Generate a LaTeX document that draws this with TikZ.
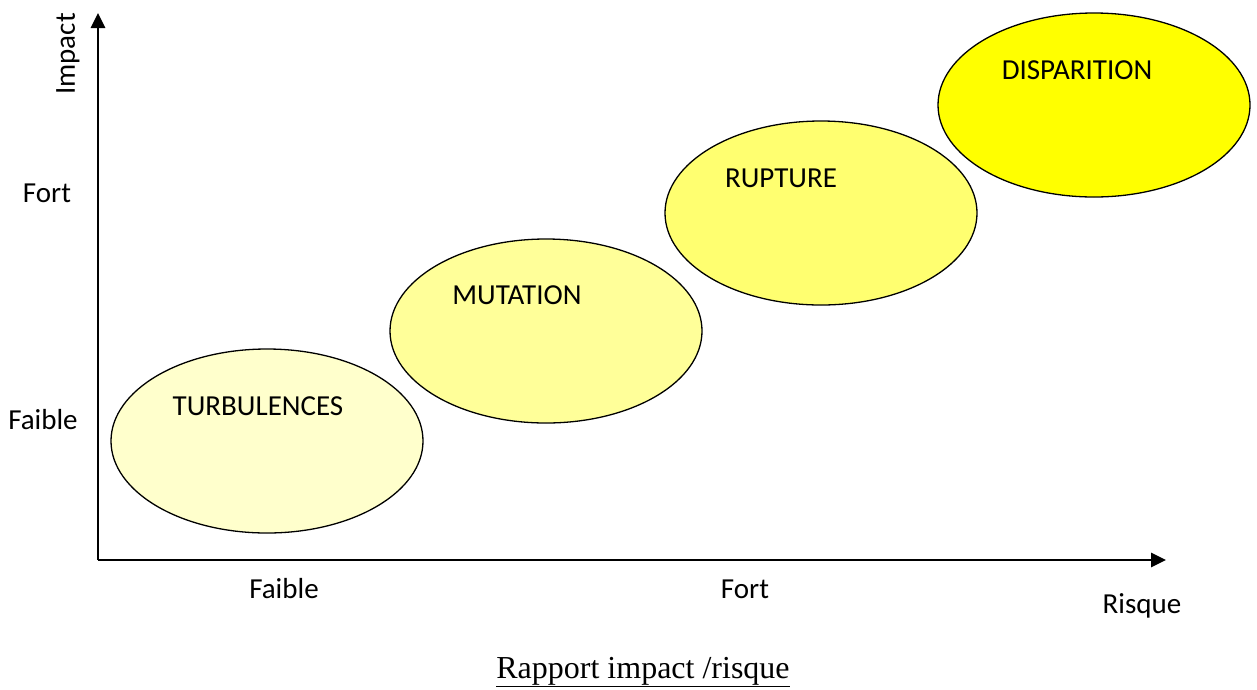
\documentclass[tikz,border=0pt]{standalone}
\usepackage{fontspec}
\setmainfont{Carlito}
\newfontfamily\capfont{Liberation Serif}
\usetikzlibrary{arrows.meta,shapes.geometric}

\begin{document}
\begin{tikzpicture}[x=1pt,y=-1pt,
  bubble/.style = {draw, ellipse, line width=1.3pt, minimum width=312pt, minimum height=184pt, inner sep=0pt},
  axis/.style = {line width=2.7pt, -{Triangle[length=15pt,width=14pt]}},
  lbl/.style = {font=\fontsize{29}{33}\selectfont, inner sep=0pt},
  node distance={15mm}]
\useasboundingbox (0,0) rectangle (1257,689);
\definecolor{jaune1}{HTML}{FFFFCC}
\definecolor{jaune2}{HTML}{FFFF99}
\definecolor{jaune3}{HTML}{FFFF70}
\definecolor{jaune4}{HTML}{FFFF00}
% axes
\coordinate (o) at (98,560);
\coordinate (ytop) at (98,13);
\coordinate (xend) at (1166,560);
\draw[axis] (o) -- (ytop);
\draw[axis] (o) -- (xend);
\node[lbl, rotate=90] (impact) at (68,54) {Impact};
\node[lbl] (yfort) at (47,193) {Fort};
\node[lbl] (yfaible) at (43,420) {Faible};
\node[lbl] (xfaible) at (284,589) {Faible};
\node[lbl] (xfort) at (745,589) {Fort};
\node[lbl] (risque) at (1142,606) {Risque};
% ellipses
\node[bubble, fill=jaune1] (turb) at (267,441) {};
\node[bubble, fill=jaune2] (mut) at (546,331) {};
\node[bubble, fill=jaune3] (rupt) at (821,213) {};
\node[bubble, fill=jaune4] (disp) at (1094,105) {};
\node[lbl] (turbt) at (258,406) {TURBULENCES};
\node[lbl] (mutt) at (517,295) {MUTATION};
\node[lbl] (ruptt) at (781,178) {RUPTURE};
\node[lbl] (dispt) at (1077,70) {DISPARITION};
\node[inner sep=0pt, font=\capfont\fontsize{32}{36}\selectfont] (titre) at (643,672) {\underline{Rapport impact /risque}};
\end{tikzpicture}
\end{document}
